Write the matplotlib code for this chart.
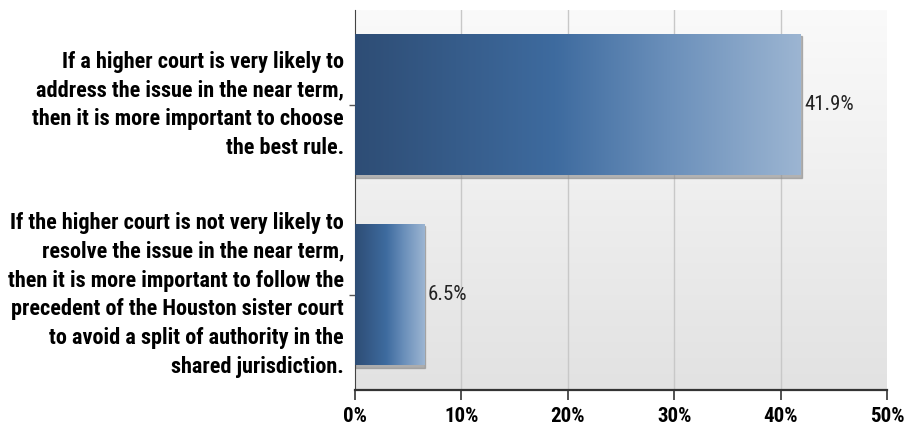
import numpy as np
import matplotlib.pyplot as plt
from matplotlib.colors import LinearSegmentedColormap

# --- dati ---
categorie = [
    "If a higher court is very likely to\naddress the issue in the near term,\nthen it is more important to choose\nthe best rule.",
    "If the higher court is not very likely to\nresolve the issue in the near term,\nthen it is more important to follow the\nprecedent of the Houston sister court\nto avoid a split of authority in the\nshared jurisdiction.",
]
valori = [41.9, 6.5]
etichette_x = ["0%", "10%", "20%", "30%", "40%", "50%"]

FONT = ['Liberation Sans Narrow', 'Roboto Condensed', 'Archivo Narrow',
        'Barlow Semi Condensed', 'DejaVu Sans']

fig = plt.figure(figsize=(9.07, 4.29), dpi=100)
ax = fig.add_axes([355 / 907, 39 / 429, 532 / 907, 380 / 429])

# sfondo a gradiente verticale
sfondo = LinearSegmentedColormap.from_list("bg", ["#e2e2e2", "#fafafa"])
ax.imshow(np.linspace(0, 1, 256).reshape(-1, 1), cmap=sfondo, aspect='auto',
          extent=[0, 50, 1.5, -0.5], origin='lower', zorder=0)

# griglia verticale
for x in range(10, 50, 10):
    ax.axvline(x, color='#c8c8c8', linewidth=1, zorder=1)

# barre con gradiente orizzontale
barra = LinearSegmentedColormap.from_list(
    "bar", [(0.0, "#2e4d75"), (0.45, "#3e6b9f"), (0.7, "#6a8fba"), (1.0, "#9cb5d2")])
grad = np.linspace(0, 1, 256).reshape(1, -1)
altezza = 0.742
for i, v in enumerate(valori):
    # ombra
    ax.add_patch(plt.Rectangle((0, i - altezza / 2 + 0.01), v + 0.12, altezza + 0.005,
                               color='#8a8a8a', alpha=0.6, zorder=2))
    ax.imshow(grad, cmap=barra, aspect='auto',
              extent=[0, v, i + altezza / 2, i - altezza / 2], zorder=3)
    ax.text(v + 0.3, i, f"{v}%", va='center', ha='left', fontsize=15,
            family=FONT, color='#222222', zorder=4)

ax.set_xlim(0, 50)
ax.set_ylim(1.5, -0.5)
ax.set_xticks(range(0, 51, 10))
ax.set_xticklabels(etichette_x, fontsize=15, fontweight='bold', family=FONT)
ax.set_yticks(range(len(categorie)))
ax.set_yticklabels(categorie, fontsize=16, fontweight='bold', family=FONT,
                   linespacing=1.4, va='center')
ax.tick_params(axis='x', length=7, width=1.2, color='#333333', pad=5)
ax.tick_params(axis='y', length=4, width=1, color='#555555', pad=4)

for lato in ['top', 'right']:
    ax.spines[lato].set_visible(False)
ax.spines['left'].set_color('#444444')
ax.spines['bottom'].set_color('#333333')
ax.spines['bottom'].set_linewidth(1.6)

fig.savefig("out.png", dpi=100)
